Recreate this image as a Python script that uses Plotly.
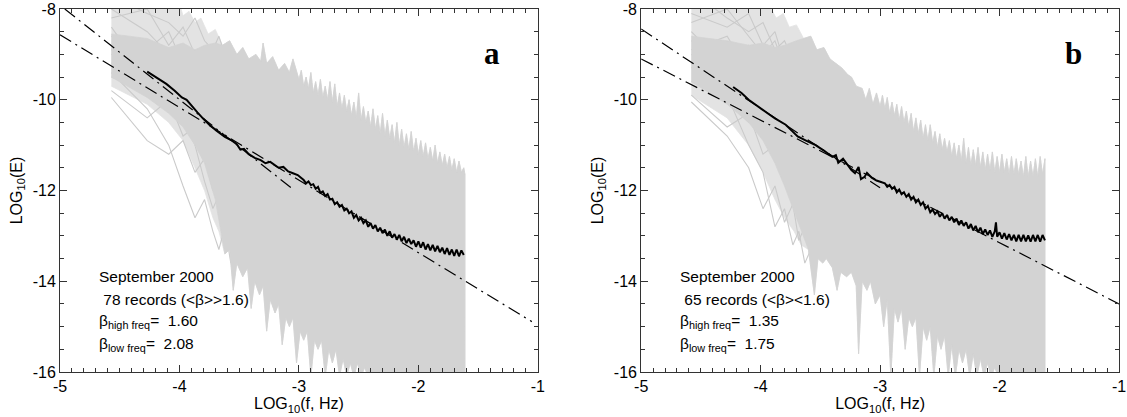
import plotly.graph_objects as go

# ---------------- data ----------------
REC_X_A = [-4.57, -4.27, -4.09, -3.97, -3.87, -3.79, -3.72, -3.67, -3.62, -3.57]
REC_X_B = [-4.58, -4.28, -4.10, -3.98, -3.88, -3.80, -3.73, -3.68, -3.63, -3.58]

REC_A = [
    [-7.7, -8.1, -8.3, -8.6, -8.2, -8.7, -8.9, -8.6, -9.0, -8.9],
    [-8.2, -8.0, -8.8, -8.4, -9.0, -8.9, -9.2, -9.4, -9.1, -9.6],
    [-8.6, -8.9, -8.5, -9.2, -9.3, -9.0, -9.6, -9.4, -9.9, -9.7],
    [-8.9, -9.3, -9.6, -9.1, -9.8, -9.9, -9.5, -10.2, -10.0, -10.3],
    [-9.2, -8.7, -9.4, -9.9, -9.6, -10.3, -10.1, -9.9, -10.6, -10.4],
    [-9.5, -9.8, -10.2, -9.7, -10.4, -10.2, -10.8, -10.5, -10.9, -11.2],
    [-9.8, -10.4, -10.0, -10.8, -10.6, -11.2, -10.9, -11.5, -11.2, -11.7],
    [-9.95, -10.9, -11.2, -10.9, -11.6, -11.3, -12.0, -11.8, -12.4, -12.1],
    [-9.4, -10.2, -11.0, -11.9, -12.6, -12.2, -12.9, -13.3, -12.8, -13.6],
    [-8.4, -9.5, -9.2, -10.1, -9.9, -10.6, -10.4, -11.0, -10.7, -11.3],
    [-9.0, -9.1, -9.9, -10.4, -11.0, -11.8, -12.4, -12.1, -13.0, -12.7],
    [-8.0, -8.5, -9.0, -8.8, -9.5, -9.3, -9.9, -9.7, -10.3, -10.1],
]
REC_B = [
    [-7.6, -8.2, -8.5, -8.3, -8.9, -8.7, -9.1, -8.9, -9.3, -9.1],
    [-8.3, -8.0, -8.6, -9.0, -8.7, -9.3, -9.0, -9.6, -9.4, -9.8],
    [-8.7, -9.1, -8.8, -9.5, -9.8, -9.4, -10.0, -9.8, -10.3, -10.1],
    [-9.0, -9.6, -9.9, -9.4, -10.2, -10.5, -10.1, -10.7, -10.4, -10.9],
    [-9.3, -8.8, -9.7, -10.3, -10.0, -10.8, -11.1, -10.6, -11.3, -11.0],
    [-9.6, -10.0, -10.5, -10.1, -10.9, -10.6, -11.4, -11.1, -11.8, -11.5],
    [-9.9, -10.6, -10.3, -11.2, -11.0, -11.7, -11.4, -12.0, -11.7, -12.3],
    [-10.05, -10.8, -11.5, -12.4, -11.9, -12.7, -12.3, -13.1, -12.8, -13.4],
    [-9.2, -9.9, -11.0, -11.6, -12.8, -12.4, -13.2, -12.9, -13.6, -13.3],
    [-8.5, -9.3, -9.0, -9.9, -9.6, -10.4, -10.2, -10.9, -10.6, -11.2],
    [-8.9, -8.6, -9.4, -9.2, -9.9, -10.1, -9.7, -10.4, -10.2, -10.6],
    [-8.1, -8.4, -8.1, -8.8, -8.5, -9.2, -8.9, -9.5, -9.2, -9.8],
]

# upper / lower envelope of the grey band of spectra
UP_X_A = [-4.57, -4.02, -3.97, -3.92, -3.87, -3.82, -3.76, -3.70, -3.64, -3.58, -3.52, -3.47,
          -3.42, -3.36, -3.32, -3.30, -3.27, -3.22, -3.17, -3.12, -3.08, -3.05,
          -3.00, -2.98, -2.96, -2.94, -2.92, -2.90, -2.88, -2.86, -2.84, -2.82, -2.80, -2.78,
          -2.76, -2.74, -2.72, -2.70, -2.68, -2.66, -2.64, -2.62, -2.60, -2.58, -2.56, -2.54,
          -2.52, -2.50, -2.48, -2.46, -2.44, -2.42, -2.40, -2.38, -2.36, -2.34, -2.32, -2.30,
          -2.28, -2.26, -2.24, -2.22, -2.20, -2.18, -2.16, -2.14, -2.12, -2.10, -2.08, -2.06,
          -2.04, -2.02, -2.00, -1.98, -1.96, -1.94, -1.92, -1.90, -1.88, -1.86, -1.84, -1.82,
          -1.80, -1.78, -1.76, -1.74, -1.72, -1.70, -1.68, -1.66, -1.64, -1.62, -1.61]
UP_Y_A = [-7.6, -7.7, -8.15, -8.05, -8.3, -8.2, -8.55, -8.45, -8.8, -8.7, -9.0, -8.85,
          -9.1, -9.0, -9.15, -8.75, -9.2, -9.05, -9.35, -9.2, -9.4, -9.1,
          -9.55, -9.35, -9.70, -9.50, -9.75, -9.40, -9.85, -9.60, -9.90, -9.55, -9.95, -9.70,
          -10.00, -9.60, -10.05, -9.65, -10.15, -9.85, -10.20, -9.90, -10.25, -10.00, -10.35, -10.05,
          -10.40, -9.85, -10.45, -10.15, -10.50, -10.25, -10.60, -10.20, -10.65, -10.35, -10.75, -10.30,
          -10.80, -10.45, -10.85, -10.55, -10.95, -10.50, -11.00, -10.65, -11.05, -10.75, -11.10, -10.70,
          -11.15, -10.85, -11.20, -10.90, -11.25, -10.95, -11.30, -11.05, -11.35, -11.00, -11.40, -11.15,
          -11.45, -11.20, -11.50, -11.25, -11.55, -11.30, -11.60, -11.35, -11.60, -11.50, -11.65]
LO_X_A = [-4.57, -4.27, -4.09, -3.97, -3.87, -3.79, -3.72, -3.67, -3.62, -3.58, -3.55, -3.52,
          -3.47, -3.43, -3.40, -3.37, -3.33, -3.30, -3.27, -3.24, -3.20, -3.17, -3.14, -3.11,
          -3.08, -3.05, -3.02, -2.99, -2.96, -2.93, -2.90, -2.87, -2.84, -2.81, -2.78, -2.75,
          -2.72, -2.69, -2.66, -2.63, -2.60, -2.57, -2.54, -2.51, -2.48, -2.45, -2.42, -1.61]
LO_Y_A = [-9.7, -10.1, -10.5, -10.9, -11.5, -12.0, -12.6, -12.9, -13.4, -13.3, -14.2, -13.6,
          -13.9, -13.7, -14.6, -14.0, -14.3, -14.1, -15.1, -14.4, -14.7, -14.5, -15.4, -14.8,
          -15.0, -14.8, -15.8, -15.1, -15.3, -15.1, -16.1, -15.3, -15.5, -15.3, -16.1, -15.5,
          -15.8, -15.5, -16.1, -15.7, -16.1, -15.8, -16.1, -15.8, -16.1, -15.9, -16.1, -16.1]
# densest core at low frequency (where the records overlap most)
CORE_UP_X_A = [-4.57, -4.27, -4.09, -3.97, -3.87, -3.79, -3.70]
CORE_UP_Y_A = [-8.55, -8.65, -8.85, -8.75, -8.9, -8.8, -8.75]
CORE_LO_X_A = [-4.57, -4.27, -4.09, -3.97, -3.87, -3.79, -3.70]
CORE_LO_Y_A = [-9.5, -9.95, -10.3, -10.6, -11.0, -11.4, -12.2]

UP_X_B = [-4.58, -4.05, -3.99, -3.93, -3.87, -3.81, -3.76, -3.70, -3.64, -3.58, -3.53, -3.47,
          -3.42, -3.37, -3.32, -3.27, -3.24, -3.20, -3.15, -3.12, -3.09, -3.06, -3.03,
          -3.00, -2.98, -2.96, -2.94, -2.92, -2.90, -2.88, -2.86, -2.84, -2.82, -2.80, -2.78,
          -2.76, -2.74, -2.72, -2.70, -2.68, -2.66, -2.64, -2.62, -2.60, -2.58, -2.56, -2.54,
          -2.52, -2.50, -2.48, -2.46, -2.44, -2.42, -2.40, -2.38, -2.36, -2.34, -2.32, -2.30,
          -2.28, -2.26, -2.24, -2.22, -2.20, -2.18, -2.16, -2.14, -2.12, -2.10, -2.08, -2.06,
          -2.04, -2.02, -2.00, -1.98, -1.96, -1.94, -1.92, -1.90, -1.88, -1.86, -1.84, -1.82,
          -1.80, -1.78, -1.76, -1.74, -1.72, -1.70, -1.68, -1.66, -1.64, -1.62]
UP_Y_B = [-7.6, -7.7, -8.0, -7.9, -8.2, -8.1, -8.4, -8.35, -8.65, -8.6, -8.9, -8.85,
          -9.1, -9.2, -9.3, -9.45, -9.5, -9.7, -9.75, -10.0, -9.75, -10.1, -9.85,
          -10.15, -9.90, -10.20, -9.95, -10.30, -10.05, -10.35, -10.10, -10.45, -10.15, -10.50, -10.25,
          -10.60, -10.30, -10.70, -10.40, -10.75, -10.45, -10.85, -10.55, -10.90, -10.55, -10.95, -10.70,
          -11.05, -10.75, -11.10, -10.85, -11.15, -10.90, -11.25, -10.95, -11.30, -11.00, -11.35, -10.85,
          -11.40, -11.05, -11.45, -11.10, -11.45, -11.05, -11.50, -11.15, -11.55, -11.20, -11.55, -11.15,
          -11.60, -11.25, -11.60, -11.20, -11.60, -11.30, -11.65, -11.25, -11.65, -11.30, -11.65, -11.35,
          -11.70, -11.25, -11.70, -11.35, -11.70, -11.30, -11.70, -11.25, -11.65, -11.30]
LO_X_B = [-4.58, -4.28, -4.10, -3.98, -3.88, -3.80, -3.72, -3.66, -3.60, -3.55, -3.52, -3.48,
          -3.45, -3.40, -3.36, -3.33, -3.28, -3.24, -3.20, -3.18, -3.15, -3.11, -3.08, -3.04,
          -3.00, -2.97, -2.94, -2.91, -2.88, -2.85, -2.82, -2.79, -2.76, -2.73, -2.70, -2.67,
          -2.64, -2.61, -2.58, -2.55, -2.52, -2.49, -2.46, -2.43, -2.40, -2.37, -2.34, -2.31,
          -2.28, -2.25, -2.22, -2.19, -2.16, -2.13, -2.10, -2.07, -2.04, -2.01, -1.62]
LO_Y_B = [-9.9, -10.4, -11.0, -11.6, -12.2, -12.6, -12.9, -13.2, -13.3, -14.3, -13.5, -13.6,
          -13.5, -13.7, -14.2, -13.8, -13.9, -13.8, -14.1, -15.6, -14.0, -14.2, -14.0, -14.5,
          -14.3, -15.0, -14.4, -16.1, -14.6, -14.9, -14.6, -15.5, -14.8, -15.0, -14.8, -16.1,
          -15.0, -15.3, -15.0, -16.1, -15.2, -15.5, -15.2, -16.1, -15.4, -16.1, -15.5, -15.8,
          -15.5, -16.1, -15.6, -16.1, -15.7, -16.1, -15.8, -16.1, -15.9, -16.1, -16.1]
CORE_UP_X_B = [-4.58, -4.28, -4.10, -3.98, -3.88, -3.80, -3.70]
CORE_UP_Y_B = [-8.6, -8.7, -8.8, -8.75, -8.85, -8.8, -8.7]
CORE_LO_X_B = [-4.58, -4.28, -4.10, -3.98, -3.88, -3.80, -3.70]
CORE_LO_Y_B = [-9.6, -10.1, -10.5, -10.9, -11.4, -11.9, -12.6]

# mean spectra (black)
MEAN_X_A = [-4.27, -4.20, -4.11, -4.04, -3.98, -3.94, -3.91, -3.85, -3.80, -3.75, -3.69, -3.62,
            -3.56, -3.52, -3.49, -3.46, -3.42, -3.37, -3.32, -3.28, -3.24, -3.20, -3.17, -3.13,
            -3.09, -3.05, -3.01,
            -2.96, -2.94, -2.92, -2.90, -2.88, -2.86, -2.84, -2.82, -2.80, -2.78, -2.76, -2.74,
            -2.72, -2.70, -2.68, -2.66, -2.64, -2.62, -2.60, -2.58, -2.56, -2.54, -2.52, -2.50,
            -2.48, -2.46, -2.44, -2.42, -2.40, -2.38, -2.36, -2.34, -2.32, -2.30, -2.28, -2.26,
            -2.24, -2.22, -2.20, -2.18, -2.16, -2.14, -2.12, -2.10, -2.08, -2.06, -2.04, -2.02,
            -2.00, -1.98, -1.96, -1.94, -1.92, -1.90, -1.88, -1.86, -1.84, -1.82, -1.80, -1.78,
            -1.76, -1.74, -1.72, -1.70, -1.68, -1.66, -1.64, -1.62]
MEAN_Y_A = [-9.38, -9.50, -9.65, -9.80, -9.95, -10.00, -10.10, -10.28, -10.42, -10.55, -10.68, -10.82,
            -10.90, -10.98, -11.10, -11.08, -11.20, -11.28, -11.33, -11.40, -11.37, -11.45, -11.50, -11.48,
            -11.58, -11.62, -11.66,
            -11.77, -11.84, -11.80, -11.88, -11.86, -11.96, -11.92, -12.05, -12.02, -12.12, -12.08, -12.20,
            -12.18, -12.30, -12.26, -12.36, -12.32, -12.44, -12.40, -12.50, -12.46, -12.60, -12.54, -12.66,
            -12.60, -12.72, -12.66, -12.80, -12.72, -12.84, -12.76, -12.90, -12.82, -12.94, -12.86, -13.00,
            -12.90, -13.04, -12.96, -13.08, -12.98, -13.12, -13.02, -13.16, -13.06, -13.18, -13.10, -13.24,
            -13.12, -13.26, -13.14, -13.30, -13.18, -13.32, -13.20, -13.34, -13.22, -13.36, -13.26, -13.40,
            -13.27, -13.42, -13.30, -13.44, -13.30, -13.45, -13.32, -13.42]
MEAN_X_B = [-4.23, -4.16, -4.10, -4.04, -3.99, -3.93, -3.88, -3.83, -3.79, -3.74, -3.69, -3.62,
            -3.54, -3.47, -3.40, -3.37, -3.35, -3.31, -3.27, -3.24, -3.21, -3.18, -3.16, -3.13,
            -3.11, -3.07, -3.03, -2.99,
            -2.96, -2.94, -2.92, -2.90, -2.88, -2.86, -2.84, -2.82, -2.80, -2.78, -2.76, -2.74,
            -2.72, -2.70, -2.68, -2.66, -2.64, -2.62, -2.60, -2.58, -2.56, -2.54, -2.52, -2.50,
            -2.48, -2.46, -2.44, -2.42, -2.40, -2.38, -2.36, -2.34, -2.32, -2.30, -2.28, -2.26,
            -2.24, -2.22, -2.20, -2.18, -2.16, -2.14, -2.12, -2.10, -2.08, -2.06, -2.04, -2.03,
            -2.02, -2.00, -1.98, -1.96, -1.94, -1.92, -1.90, -1.88, -1.86, -1.84, -1.82, -1.80,
            -1.78, -1.76, -1.74, -1.72, -1.70, -1.68, -1.66, -1.64, -1.62]
MEAN_Y_B = [-9.72, -9.85, -10.00, -10.12, -10.22, -10.32, -10.41, -10.48, -10.55, -10.68, -10.81, -10.90,
            -11.00, -11.12, -11.26, -11.22, -11.39, -11.30, -11.45, -11.55, -11.62, -11.48, -11.75, -11.70,
            -11.61, -11.72, -11.78, -11.81,
            -11.84, -11.92, -11.88, -11.96, -11.92, -12.04, -11.98, -12.08, -12.04, -12.14, -12.08, -12.20,
            -12.14, -12.26, -12.20, -12.32, -12.26, -12.40, -12.34, -12.48, -12.42, -12.52, -12.46, -12.58,
            -12.50, -12.62, -12.54, -12.66, -12.58, -12.70, -12.62, -12.76, -12.66, -12.78, -12.70, -12.84,
            -12.74, -12.88, -12.78, -12.92, -12.82, -12.96, -12.86, -12.98, -12.88, -13.02, -12.90, -12.70,
            -13.02, -12.92, -13.06, -12.94, -13.08, -12.96, -13.10, -12.98, -13.12, -12.98, -13.12, -12.98,
            -13.12, -12.99, -13.13, -12.98, -13.12, -12.98, -13.13, -12.98, -13.10]

# power-law fits (dash-dot), end points
FIT_LOW_X_A, FIT_LOW_Y_A = [-4.96, -3.06], [-8.00, -11.95]     # beta = 2.08
FIT_HIGH_X_A, FIT_HIGH_Y_A = [-5.00, -1.05], [-8.57, -14.89]   # beta = 1.60
FIT_LOW_X_B, FIT_LOW_Y_B = [-5.00, -3.00], [-8.44, -11.94]     # beta = 1.75
FIT_HIGH_X_B, FIT_HIGH_Y_B = [-5.00, -1.00], [-9.10, -14.50]   # beta = 1.35

X_TICKS = [-5, -4, -3, -2, -1]
Y_TICKS = [-16, -14, -12, -10, -8]
CORE_TO = -3.66   # band envelopes used for the dense part beyond this frequency

TEXT_A = ["September 2000", "\u00a078 records (<β>>1.6)",
          "β<sub>high freq</sub>=\u00a0 1.60", "β<sub>low freq</sub>=\u00a0 2.08"]
TEXT_B = ["September 2000", "\u00a065 records (<β><1.6)",
          "β<sub>high freq</sub>=\u00a0 1.35", "β<sub>low freq</sub>=\u00a0 1.75"]
TEXT_Y = [-13.90, -14.41, -14.89, -15.40]
PANEL_LABELS = ["a", "b"]

# ---------------- figure ----------------
GREY = "#d3d3d3"
LIGHT = "#e3e3e3"
LINEGREY = "#cacaca"
FONT = "Liberation Sans, Arial, sans-serif"
fig = go.Figure()

panels = [
    ("x", "y", REC_X_A, REC_A, UP_X_A, UP_Y_A, LO_X_A, LO_Y_A,
     CORE_UP_X_A, CORE_UP_Y_A, CORE_LO_X_A, CORE_LO_Y_A, MEAN_X_A, MEAN_Y_A,
     (FIT_LOW_X_A, FIT_LOW_Y_A), (FIT_HIGH_X_A, FIT_HIGH_Y_A), TEXT_A, PANEL_LABELS[0]),
    ("x2", "y2", REC_X_B, REC_B, UP_X_B, UP_Y_B, LO_X_B, LO_Y_B,
     CORE_UP_X_B, CORE_UP_Y_B, CORE_LO_X_B, CORE_LO_Y_B, MEAN_X_B, MEAN_Y_B,
     (FIT_LOW_X_B, FIT_LOW_Y_B), (FIT_HIGH_X_B, FIT_HIGH_Y_B), TEXT_B, PANEL_LABELS[1]),
]

for (xa, ya, rx, recs, ux, uy, lx, ly, cux, cuy, clx, cly, mx, my, fl, fh, texts, lab) in panels:
    # whole band, lighter (sparse lines at low frequency)
    fig.add_trace(go.Scatter(x=ux + lx[::-1], y=uy + ly[::-1], mode="lines", fill="toself",
                             fillcolor=LIGHT, line=dict(color=LIGHT, width=0.8),
                             xaxis=xa, yaxis=ya, showlegend=False, hoverinfo="skip"))
    # individual low-frequency records
    for r in recs:
        fig.add_trace(go.Scatter(x=rx, y=r, mode="lines", line=dict(color=LINEGREY, width=1.1),
                                 xaxis=xa, yaxis=ya, showlegend=False, hoverinfo="skip"))
    # dense part: core at low frequency, full envelope beyond
    dux = cux + [a for a in ux if a > CORE_TO]
    duy = cuy + [b for a, b in zip(ux, uy) if a > CORE_TO]
    dlx = clx + [a for a in lx if a > CORE_TO]
    dly = cly + [b for a, b in zip(lx, ly) if a > CORE_TO]
    fig.add_trace(go.Scatter(x=dux + dlx[::-1], y=duy + dly[::-1], mode="lines", fill="toself",
                             fillcolor=GREY, line=dict(color=GREY, width=0.8),
                             xaxis=xa, yaxis=ya, showlegend=False, hoverinfo="skip"))
    # fits
    for fx, fy in (fl, fh):
        fig.add_trace(go.Scatter(x=fx, y=fy, mode="lines",
                                 line=dict(color="black", width=1.2, dash="13px,5px,2px,5px"),
                                 xaxis=xa, yaxis=ya, showlegend=False))
    # mean
    fig.add_trace(go.Scatter(x=mx, y=my, mode="lines", line=dict(color="black", width=2),
                             xaxis=xa, yaxis=ya, showlegend=False))
    for t, ty in zip(texts, TEXT_Y):
        fig.add_annotation(x=-4.69, y=ty, xref=xa, yref=ya, text=t, showarrow=False,
                           xanchor="left", yanchor="middle",
                           font=dict(family=FONT, size=15.5, color="black"))
    fig.add_annotation(x=-1.38, y=-8.98, xref=xa, yref=ya, text="<b>%s</b>" % lab,
                       showarrow=False, xanchor="center", yanchor="middle",
                       font=dict(family="Liberation Serif, Times New Roman, serif", size=31,
                                 color="black"))

W, H = 1127, 417
L, R, T, B = 60, 1, 9, 45
pw = W - L - R
axis_common = dict(showgrid=False, zeroline=False, showline=True, linecolor="#333",
                   linewidth=1, mirror="ticks", ticks="inside", ticklen=7, tickcolor="#333",
                   tickfont=dict(family=FONT, size=16, color="black"))
xcommon = dict(axis_common, range=[-5, -1], tickvals=X_TICKS, ticktext=[str(v) for v in X_TICKS],
               minor=dict(ticks="inside", ticklen=4, dtick=0.1, tick0=-5, tickcolor="#333"),
               title=dict(text="LOG<sub>10</sub>(f, Hz)",
                          font=dict(family=FONT, size=16, color="black"), standoff=2))
ycommon = dict(axis_common, range=[-16, -8], tickvals=Y_TICKS, ticktext=[str(v) for v in Y_TICKS],
               minor=dict(ticks="inside", ticklen=4, dtick=0.5, tick0=-16, tickcolor="#333"),
               title=dict(text="LOG<sub>10</sub>(E)",
                          font=dict(family=FONT, size=16, color="black"), standoff=6))

fig.update_layout(
    width=W, height=H, margin=dict(l=L, r=R, t=T, b=B),
    paper_bgcolor="white", plot_bgcolor="white",
    xaxis=dict(xcommon, domain=[0, 481 / pw], anchor="y"),
    yaxis=dict(ycommon, domain=[0, 1], anchor="x"),
    xaxis2=dict(xcommon, domain=[585 / pw, 1], anchor="y2"),
    yaxis2=dict(ycommon, domain=[0, 1], anchor="x2"),
)

fig.write_html("out.html")
